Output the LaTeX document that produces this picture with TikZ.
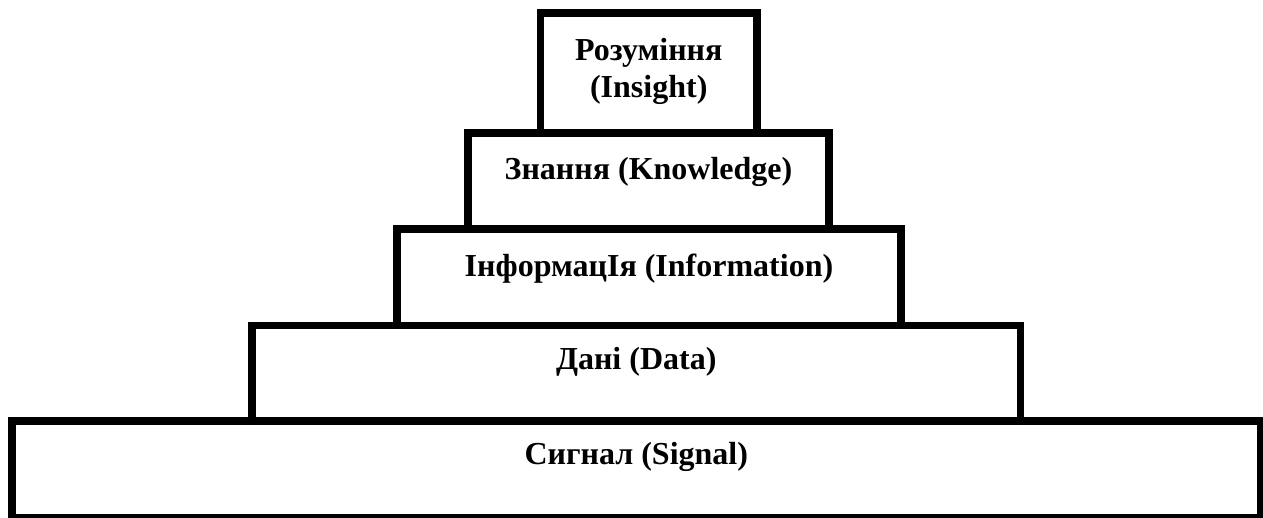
\documentclass[tikz,border=0pt]{standalone}
\usepackage{fontspec}
\setmainfont{Liberation Serif}
\usepackage{tikz}

\begin{document}
\begin{tikzpicture}[x=1pt, y=-1pt,
    level/.style={draw, line width=7.5pt, inner sep=0pt},
    caption/.style={anchor=base, align=center,
          font=\fontsize{32}{37}\selectfont\bfseries}]
  \useasboundingbox (0,0) rectangle (1263,517);
  % pyramid levels, top to bottom
  \node[level, minimum width=216.5pt, minimum height=120pt] (insight) at (648.75,73) {};
  \node[level, minimum width=361pt, minimum height=96pt] (knowledge) at (648.5,181) {};
  \node[level, minimum width=504pt, minimum height=96.5pt] (information) at (649,277.25) {};
  \node[level, minimum width=768.5pt, minimum height=95.5pt] (data) at (636.25,373.25) {};
  \node[level, minimum width=1248.7pt, minimum height=96.3pt] (signal) at (636.35,469.15) {};
  % captions (base = last line)
  \node[caption, yshift=-88pt] (insighttext) at (insight.north) {Розуміння\\(Insight)};
  \node[caption, yshift=-50pt] (knowledgetext) at (knowledge.north) {Знання (Knowledge)};
  \node[caption, yshift=-51pt] (informationtext) at (information.north) {ІнформацІя (Information)};
  \node[caption, yshift=-48pt] (datatext) at (data.north) {Дані (Data)};
  \node[caption, yshift=-47pt] (signaltext) at (signal.north) {Сигнал (Signal)};
\end{tikzpicture}
\end{document}
